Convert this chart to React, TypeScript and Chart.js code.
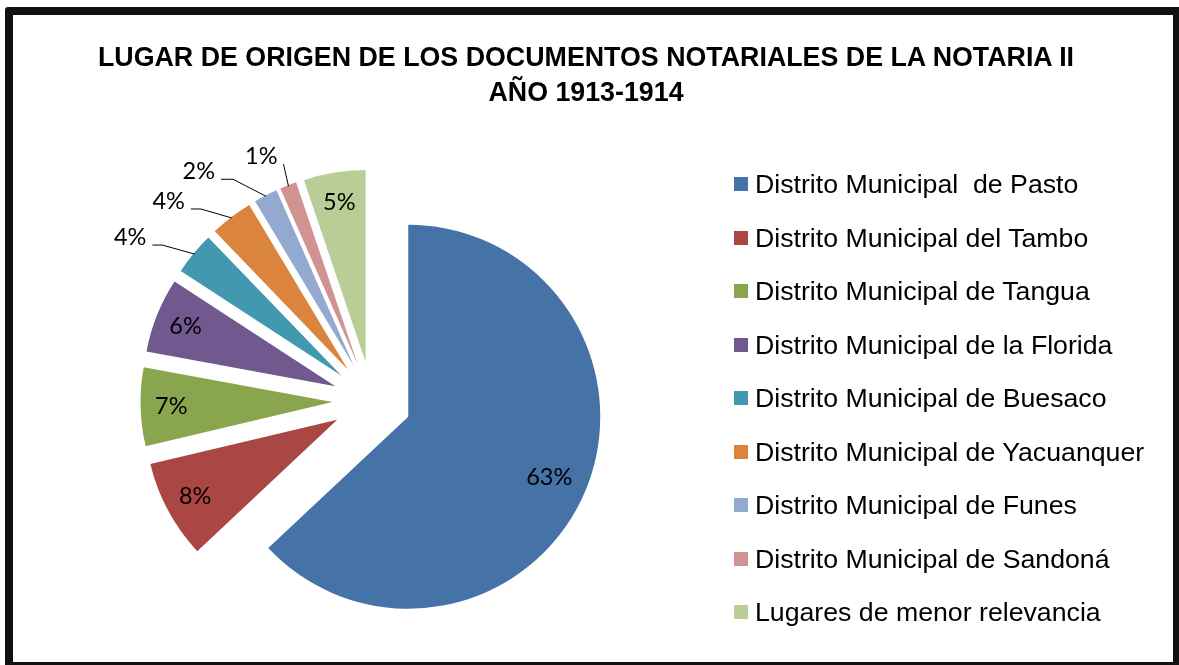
import React, { useEffect, useRef } from "react";
import { Chart, registerables } from "chart.js";

Chart.register(...registerables);

const titleLines: string[] = [
  "LUGAR DE ORIGEN DE LOS DOCUMENTOS NOTARIALES DE LA NOTARIA II",
  "AÑO 1913-1914",
];

const categories: string[] = [
  "Distrito Municipal  de Pasto",
  "Distrito Municipal del Tambo",
  "Distrito Municipal de Tangua",
  "Distrito Municipal de la Florida",
  "Distrito Municipal de Buesaco",
  "Distrito Municipal de Yacuanquer",
  "Distrito Municipal de Funes",
  "Distrito Municipal de Sandoná",
  "Lugares de menor relevancia",
];

// share of documents (percent)
const shares: number[] = [63.0, 8.3, 6.6, 6.3, 3.6, 3.6, 2.0, 1.4, 5.2];

const colors: string[] = [
  "#4572A7",
  "#AA4643",
  "#89A54E",
  "#71588F",
  "#4198AF",
  "#DB843D",
  "#93A9CF",
  "#D19392",
  "#B9CD96",
];

const EXPLODE = 39.5;
const RADIUS = 192;

const explodePlugin = {
  id: "explode",
  beforeDatasetDraw(chart: any, args: any, opts: any) {
    const ctx = chart.ctx;
    const d = opts.distance || 0;
    args.meta.data.forEach((arc: any) => {
      const mid = (arc.startAngle + arc.endAngle) / 2;
      ctx.save();
      ctx.translate(Math.cos(mid) * d, Math.sin(mid) * d);
      arc.draw(ctx);
      ctx.restore();
    });
    return false;
  },
};

const pieLabelsPlugin = {
  id: "pieLabels",
  afterDatasetsDraw(chart: any, _args: any, opts: any) {
    const ctx = chart.ctx;
    const meta = chart.getDatasetMeta(0);
    const values: number[] = chart.data.datasets[0].data;
    const total = values.reduce((a, b) => a + b, 0);
    const d = opts.distance || 0;
    const callouts = opts.callouts || {};
    const inside = opts.inside || {};
    ctx.save();
    ctx.font = opts.font;
    ctx.fillStyle = "#000";
    ctx.strokeStyle = "#000";
    ctx.lineWidth = 1;
    meta.data.forEach((arc: any, i: number) => {
      const pct = Math.round((values[i] / total) * 100) + "%";
      const mid = (arc.startAngle + arc.endAngle) / 2;
      const cx = Math.cos(mid);
      const cy = Math.sin(mid);
      const vx = arc.x + cx * d;
      const vy = arc.y + cy * d;
      const r = arc.outerRadius;
      const c = callouts[i];
      if (c) {
        const ex = vx + cx * (r - 1);
        const ey = vy + cy * (r - 1);
        const bx = ex + c.elbow[0];
        const by = ey + c.elbow[1];
        const sx = bx - c.tail;
        const sy = by;
        ctx.beginPath();
        ctx.moveTo(sx, sy);
        ctx.lineTo(bx, by);
        ctx.lineTo(ex, ey);
        ctx.stroke();
        ctx.textAlign = "right";
        ctx.textBaseline = "middle";
        ctx.fillText(pct, sx - 6, sy - 8);
      } else {
        const f = inside[i] !== undefined ? inside[i] : 0.84;
        ctx.textAlign = "center";
        ctx.textBaseline = "middle";
        ctx.fillText(pct, vx + cx * r * f, vy + cy * r * f);
      }
    });
    ctx.restore();
  },
};

export default function App() {
  const canvasRef = useRef<HTMLCanvasElement | null>(null);

  useEffect(() => {
    const canvas = canvasRef.current;
    if (!canvas) return;
    const chart = new Chart(canvas, {
      type: "pie",
      data: {
        labels: categories,
        datasets: [
          {
            data: shares,
            backgroundColor: colors,
            borderWidth: 0,
            radius: RADIUS,
          } as any,
        ],
      },
      options: {
        responsive: false,
        animation: false,
        devicePixelRatio: 1,
        layout: { padding: { left: 0, right: 435, top: 137, bottom: 0 } },
        plugins: {
          legend: { display: false },
          title: { display: false },
          tooltip: { enabled: false },
          explode: { distance: EXPLODE },
          pieLabels: {
            distance: EXPLODE,
            font: "23.5px Lato, 'Open Sans', sans-serif",
            inside: { 0: 0.8 },
            callouts: {
              4: { elbow: [-32, -9], tail: 10 },
              5: { elbow: [-31, -9], tail: 10 },
              6: { elbow: [-33, -17], tail: 12 },
              7: { elbow: [-5, -22], tail: 0 },
            },
          },
        } as any,
      },
      plugins: [explodePlugin, pieLabelsPlugin],
    });
    return () => chart.destroy();
  }, []);

  const legendTop = 184;
  const legendStep = 53.5;

  return (
    <div
      style={{
        position: "fixed",
        left: 0,
        top: 0,
        width: 1179,
        height: 665,
        background: "#fff",
        overflow: "hidden",
        fontFamily: "'Liberation Sans', Arial, sans-serif",
      }}
    >
      <canvas
        ref={canvasRef}
        width={1179}
        height={665}
        style={{ position: "absolute", left: 0, top: 0, width: 1179, height: 665 }}
      />
      <div
        style={{
          position: "absolute",
          left: 0,
          top: 40,
          width: 1172,
          textAlign: "center",
          fontWeight: "bold",
          fontSize: 26.8,
          lineHeight: "35px",
          color: "#000",
          whiteSpace: "pre",
        }}
      >
        {titleLines.map((t, i) => (
          <div key={i}>{t}</div>
        ))}
      </div>
      {categories.map((c, i) => (
        <div
          key={c}
          style={{
            position: "absolute",
            left: 734,
            top: legendTop + i * legendStep - 15,
            height: 30,
            display: "flex",
            alignItems: "center",
            whiteSpace: "pre",
            fontSize: 26.7,
            lineHeight: "26px",
            color: "#000",
          }}
        >
          <span
            style={{
              display: "inline-block",
              width: 14,
              height: 14,
              background: colors[i],
              marginRight: 7,
              flex: "none",
            }}
          />
          <span>{c}</span>
        </div>
      ))}
      <div
        style={{
          position: "absolute",
          left: 5,
          top: 7,
          width: 1174,
          height: 658,
          boxSizing: "border-box",
          borderStyle: "solid",
          borderColor: "#111",
          borderLeftWidth: 8,
          borderTopWidth: 8,
          borderRightWidth: 6,
          borderBottomWidth: 3,
          borderTopLeftRadius: 3,
          pointerEvents: "none",
        }}
      />
    </div>
  );
}
